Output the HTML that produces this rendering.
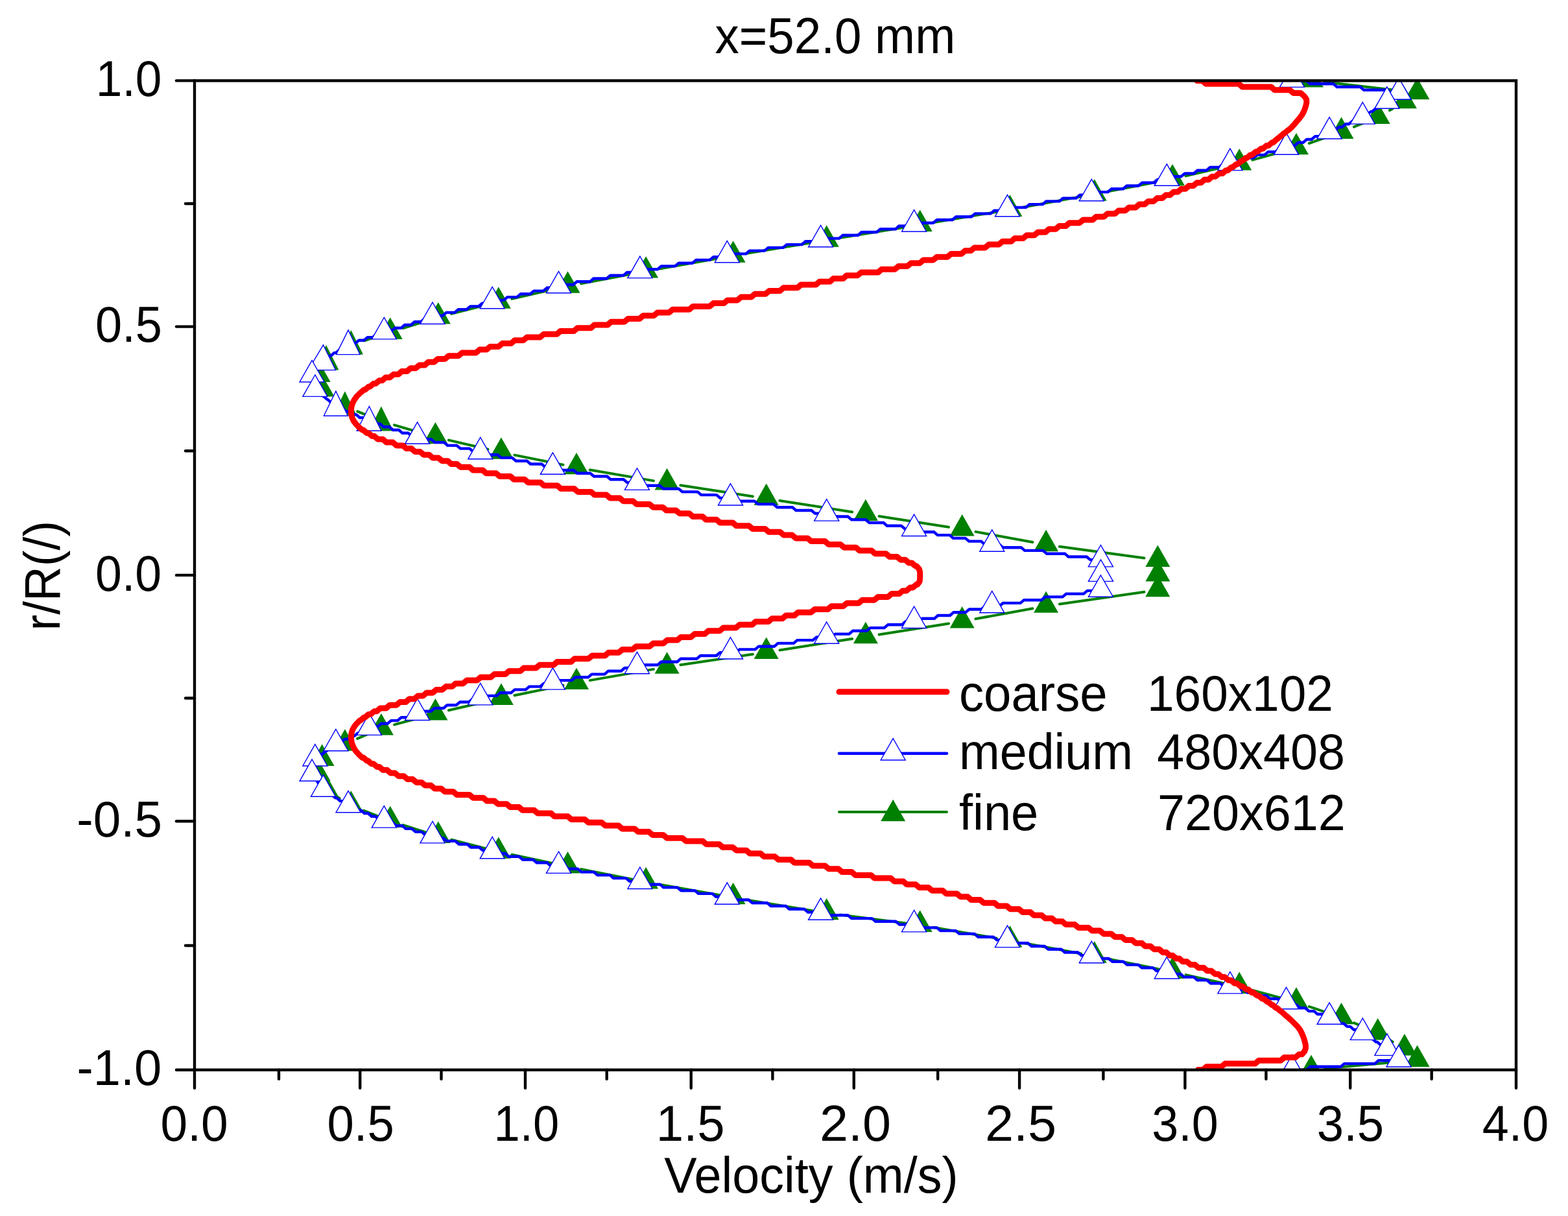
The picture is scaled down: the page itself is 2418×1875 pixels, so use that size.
<!DOCTYPE html>
<html><head><meta charset="utf-8"><title>x=52.0 mm velocity profile</title>
<style>html,body{margin:0;padding:0;background:#fff;}svg{display:block;}text{font-family:'Liberation Sans', Arial, sans-serif;fill:#000;}</style></head><body>
<svg width="2418" height="1875" viewBox="0 0 2418 1875">
<rect x="0" y="0" width="2418" height="1875" fill="#fff"/>
<defs><clipPath id="pc"><rect x="300" y="124.4" width="2038" height="1525.3"/></clipPath></defs>
<g clip-path="url(#pc)">
<path d="M2042.9 126.4L2164.6 140.5M2147.7 167.4L2142.9 170.2M2105.3 188.6L2087.9 195.7M2048.7 210.5L2018.8 221M1978.8 233.5L1931.4 246.6M1890.7 256.9L1828.5 271.2M1787.4 279.9L1708.4 295.3M1667.1 303.1L1578.1 319.5M1536.7 326.8L1439.4 343.1M1398 350L1295.4 366.9M1254 373.8L1151.3 390.8M1109.9 398L1016.8 414.5M975.5 422.2L896.1 437.3M855 445.9L789.3 460.7M748.5 470.5L696.1 483.9M655.8 495.4L621.7 506.2M581.7 518.9L561.3 525.5M523.3 542.7L521 544.1M551.3 634.3L568.5 641.4M608.1 655.4L651.2 668M691.9 678.6L752.4 692.7M793.5 701.6L868.4 716.7M909.7 724.5L1007.9 741.4M1049.4 748.2L1160.9 765.4M1202.4 771.9L1314.2 789.4M1355.6 796L1463 812.8M1504.4 819.9L1592.4 836M1633.9 842.7L1764.5 860.6M1764.5 912.8L1633.9 931.4M1592.4 938.2L1504.4 954.3M1463 961.4L1355.6 978.5M1314.1 985L1202.5 1002.4M1160.9 1008.7L1049.4 1025.2M1007.9 1031.9L909.7 1049.1M868.4 1056.9L793.5 1072.3M752.4 1081.3L691.9 1095.3M651.1 1105.7L608.2 1117.4M568.6 1131.4L551.2 1138.9M520.7 1229.1L523.6 1231M560.9 1249.9L582.1 1258.1M621.7 1272.1L655.8 1283.1M696.1 1294.7L748.5 1308.2M789.3 1317.8L855 1331.6M896.1 1340.1L975.5 1356M1016.8 1363.8L1109.9 1380.2M1151.3 1387.4L1254 1404.4M1295.5 1410.6L1397.9 1423.8M1439.4 1430L1536.7 1446.7M1578.1 1454L1667.1 1470.5M1708.4 1478.5L1787.4 1494.4M1828.5 1503.1L1890.7 1517M1931.5 1527L1978.7 1539.8M2018.9 1552.1L2048.6 1562.1M2087.8 1577.2L2105.4 1584.7M2142.8 1603.6L2147.8 1606.4M2164.6 1636.5L2042.9 1647.6" fill="none" stroke="#008000" stroke-width="4" stroke-linecap="round"/>
<g fill="#008000">
<polygon points="2022,101 2003,134.4 2041,134.4"/>
<polygon points="2185.5,119.9 2166.5,153.3 2204.5,153.3"/>
<polygon points="2165.9,133.9 2146.9,167.3 2184.9,167.3"/>
<polygon points="2124.7,157.7 2105.7,191.1 2143.7,191.1"/>
<polygon points="2068.5,180.6 2049.5,214 2087.5,214"/>
<polygon points="1999,204.9 1980,238.3 2018,238.3"/>
<polygon points="1911.2,229.2 1892.2,262.6 1930.2,262.6"/>
<polygon points="1808,252.9 1789,286.3 1827,286.3"/>
<polygon points="1687.8,276.3 1668.8,309.7 1706.8,309.7"/>
<polygon points="1557.4,300.3 1538.4,333.7 1576.4,333.7"/>
<polygon points="1418.7,323.6 1399.7,357 1437.7,357"/>
<polygon points="1274.7,347.3 1255.7,380.7 1293.7,380.7"/>
<polygon points="1130.6,371.3 1111.6,404.7 1149.6,404.7"/>
<polygon points="996.1,395.2 977.1,428.6 1015.1,428.6"/>
<polygon points="875.5,418.3 856.5,451.7 894.5,451.7"/>
<polygon points="768.8,442.3 749.8,475.7 787.8,475.7"/>
<polygon points="675.8,466.1 656.8,499.5 694.8,499.5"/>
<polygon points="601.7,489.5 582.7,522.9 620.7,522.9"/>
<polygon points="541.3,508.9 522.6,546.6 560,546.6"/>
<polygon points="503,531.9 484,570.4 522.5,570.4"/>
<polygon points="490.7,555.6 471.7,589 509.7,589"/>
<polygon points="496.6,578 477.6,611.4 515.6,611.4"/>
<polygon points="531.9,603.2 513.4,641.2 550.4,641.2"/>
<polygon points="587.9,626.5 569.1,664.5 606.7,664.5"/>
<polygon points="671.4,650.9 652.4,684.3 690.4,684.3"/>
<polygon points="772.9,674.4 753.9,707.8 791.9,707.8"/>
<polygon points="889,697.9 870,731.3 908,731.3"/>
<polygon points="1028.6,722 1009.6,755.4 1047.6,755.4"/>
<polygon points="1181.7,745.6 1162.7,779 1200.7,779"/>
<polygon points="1334.9,769.7 1315.9,803.1 1353.9,803.1"/>
<polygon points="1483.7,793.1 1464.7,826.5 1502.7,826.5"/>
<polygon points="1613.1,816.8 1594.1,850.2 1632.1,850.2"/>
<polygon points="1785.3,840.5 1766.3,873.9 1804.3,873.9"/>
<polygon points="1785.4,863 1766.4,896.4 1804.4,896.4"/>
<polygon points="1785.3,886.8 1766.3,920.2 1804.3,920.2"/>
<polygon points="1613.1,911.4 1594.1,944.8 1632.1,944.8"/>
<polygon points="1483.7,935.1 1464.7,968.5 1502.7,968.5"/>
<polygon points="1334.9,958.8 1315.9,992.2 1353.9,992.2"/>
<polygon points="1181.7,982.6 1162.7,1016 1200.7,1016"/>
<polygon points="1028.6,1005.3 1009.6,1038.7 1047.6,1038.7"/>
<polygon points="889,1029.7 870,1063.1 908,1063.1"/>
<polygon points="772.9,1053.5 753.9,1086.9 791.9,1086.9"/>
<polygon points="671.4,1077.1 652.4,1110.5 690.4,1110.5"/>
<polygon points="587.9,1100 568.9,1133.4 606.9,1133.4"/>
<polygon points="531.9,1124.3 512.9,1157.7 550.9,1157.7"/>
<polygon points="496.6,1147.6 477.6,1181 515.6,1181"/>
<polygon points="490.7,1170.9 471.7,1204.3 509.7,1204.3"/>
<polygon points="503,1194.8 484,1228.2 522,1228.2"/>
<polygon points="541.3,1219.3 522.3,1252.7 560.3,1252.7"/>
<polygon points="601.7,1242.7 582.7,1276.1 620.7,1276.1"/>
<polygon points="675.8,1266.5 656.8,1299.9 694.8,1299.9"/>
<polygon points="768.8,1290.4 749.8,1323.8 787.8,1323.8"/>
<polygon points="875.5,1313 856.5,1346.4 894.5,1346.4"/>
<polygon points="996.1,1337.1 977.1,1370.5 1015.1,1370.5"/>
<polygon points="1130.6,1360.9 1111.6,1394.3 1149.6,1394.3"/>
<polygon points="1274.7,1384.9 1255.7,1418.3 1293.7,1418.3"/>
<polygon points="1418.7,1403.5 1399.7,1436.9 1437.7,1436.9"/>
<polygon points="1557.4,1427.2 1538.4,1460.6 1576.4,1460.6"/>
<polygon points="1687.8,1451.3 1668.8,1484.7 1706.8,1484.7"/>
<polygon points="1808,1475.6 1789,1509 1827,1509"/>
<polygon points="1911.2,1498.5 1892.2,1531.9 1930.2,1531.9"/>
<polygon points="1999,1522.3 1980,1555.7 2018,1555.7"/>
<polygon points="2068.5,1545.9 2049.5,1579.3 2087.5,1579.3"/>
<polygon points="2124.7,1570 2105.7,1603.4 2143.7,1603.4"/>
<polygon points="2165.9,1594 2146.9,1627.4 2184.9,1627.4"/>
<polygon points="2185.5,1611.6 2166.5,1645 2204.5,1645"/>
<polygon points="2022,1626.5 2003,1659.9 2041,1659.9"/>
</g>
<polyline points="1992.5,124.5 2014.8,124.5 2020.3,129.3 2056.2,129.3 2061.7,134 2097.7,134 2103.2,138.8 2139.2,138.8 2144.7,143.6 2150.3,143.6 2150.3,148.3 2149.7,148.3 2144.2,153.1 2143.5,153.1 2138,157.9 2136.4,157.9 2130.9,162.6 2128.9,162.6 2123.4,167.4 2121.3,167.4 2115.8,172.1 2113.8,172.1 2108.3,176.9 2106.3,176.9 2100.8,181.7 2096.5,181.7 2091,186.4 2085.9,186.4 2080.4,191.2 2075.2,191.2 2069.7,196 2064.6,196 2059.1,200.7 2053.9,200.7 2048.4,205.5 2041.1,205.5 2035.6,210.3 2028,210.3 2022.5,215 2015,215 2009.5,219.8 2001.9,219.8 1996.4,224.6 1988.8,224.6 1983.3,229.3 1972.6,229.3 1967.1,234.1 1955.6,234.1 1950.1,238.9 1938.6,238.9 1933.1,243.6 1921.7,243.6 1916.2,248.4 1904.7,248.4 1899.2,253.2 1885.8,253.2 1880.3,257.9 1866.2,257.9 1860.7,262.7 1846.6,262.7 1841.1,267.5 1827,267.5 1821.5,272.2 1807.3,272.2 1801.8,277 1784.8,277 1779.3,281.8 1761.1,281.8 1755.6,286.5 1737.5,286.5 1732,291.3 1713.9,291.3 1708.4,296.1 1690.3,296.1 1684.8,300.8 1664.9,300.8 1659.4,305.6 1639.1,305.6 1633.6,310.4 1613.3,310.4 1607.8,315.1 1587.5,315.1 1582,319.9 1561.8,319.9 1556.3,324.7 1533.1,324.7 1527.6,329.4 1503.7,329.4 1498.2,334.2 1474.3,334.2 1468.8,339 1444.8,339 1439.3,343.7 1415.4,343.7 1409.9,348.5 1386.4,348.5 1380.9,353.3 1357.4,353.3 1351.9,358 1328.5,358 1323,362.8 1299.5,362.8 1294,367.6 1270.5,367.6 1265,372.3 1241.9,372.3 1236.4,377.1 1213.2,377.1 1207.7,381.9 1184.6,381.9 1179.1,386.6 1155.9,386.6 1150.4,391.4 1127.2,391.4 1121.7,396.2 1100.2,396.2 1094.7,400.9 1073.4,400.9 1067.9,405.7 1046.6,405.7 1041.1,410.4 1019.8,410.4 1014.3,415.2 993,415.2 987.5,420 967,420 961.5,424.7 941.2,424.7 935.7,429.5 915.3,429.5 909.8,434.3 889.4,434.3 883.9,439 863.7,439 858.2,443.8 843.4,443.8 837.9,448.6 823.1,448.6 817.6,453.3 802.8,453.3 797.3,458.1 782.4,458.1 776.9,462.9 762.1,462.9 756.6,467.6 743.6,467.6 738.1,472.4 725.2,472.4 719.7,477.2 706.7,477.2 701.2,481.9 688.3,481.9 682.8,486.7 669.8,486.7 664.3,491.5 654.6,491.5 649.1,496.2 639.4,496.2 633.9,501 624.1,501 618.6,505.8 608.9,505.8 603.4,510.5 593.9,510.5 588.4,515.3 580.3,515.3 574.8,520.1 566.7,520.1 561.2,524.8 553.2,524.8 547.7,529.6 539.7,529.6 534.2,534.4 531.7,534.4 526.2,539.1 523.7,539.1 518.2,543.9 515.7,543.9 510.2,548.7 507.7,548.7 502.2,553.4 500.6,553.4 496.1,558.2 496.1,558.2 492.6,563 492.6,563 489.1,567.7 489.1,567.7 485.6,572.5 485.6,572.5 482.6,577.3 482.6,577.3 481.8,582 481.8,582 482.9,586.8 482.9,586.8 483.9,591.6 483.9,591.6 484.9,596.3 484.9,596.3 487.2,601.1 487.2,601.1 491.8,605.9 492.3,605.9 497.8,610.6 498.4,610.6 503.9,615.4 504.4,615.4 509.9,620.2 510.5,620.2 516,624.9 517.6,624.9 523.1,629.7 528.1,629.7 533.6,634.5 538.7,634.5 544.2,639.2 549.2,639.2 554.7,644 559.7,644 565.2,648.8 571.6,648.8 577.1,653.5 586.1,653.5 591.6,658.3 600.6,658.3 606.1,663 615.1,663 620.6,667.8 629.6,667.8 635.1,672.6 645.2,672.6 650.7,677.3 665,677.3 670.5,682.1 684.7,682.1 690.2,686.9 704.4,686.9 709.9,691.6 724.1,691.6 729.6,696.4 744.7,696.4 750.2,701.2 767.3,701.2 772.8,705.9 789.9,705.9 795.4,710.7 812.6,710.7 818.1,715.5 835.2,715.5 840.7,720.2 858.9,720.2 864.4,725 884.7,725 890.2,729.8 910.4,729.8 915.9,734.5 936.1,734.5 941.6,739.3 961.8,739.3 967.3,744.1 988.5,744.1 994,748.8 1017.6,748.8 1023.1,753.6 1046.7,753.6 1052.2,758.4 1075.8,758.4 1081.3,763.1 1104.9,763.1 1110.4,767.9 1134.1,767.9 1139.6,772.7 1163.4,772.7 1168.9,777.4 1192.7,777.4 1198.2,782.2 1222,782.2 1227.5,787 1251.3,787 1256.8,791.7 1280.1,791.7 1285.6,796.5 1307.6,796.5 1313.1,801.3 1335,801.3 1340.5,806 1362.5,806 1368,810.8 1390,810.8 1395.5,815.6 1416.2,815.6 1421.7,820.3 1440.4,820.3 1445.9,825.1 1464.5,825.1 1470,829.9 1488.7,829.9 1494.2,834.6 1512.9,834.6 1518.4,839.4 1541,839.4 1546.5,844.2 1574.7,844.2 1580.2,848.9 1608.4,848.9 1613.9,853.7 1642.1,853.7 1647.6,858.5 1675.8,858.5 1681.3,863.2 1694.7,863.2 1697.4,868 1697.4,868 1697.4,872.8 1697.4,872.8 1697.5,877.5 1697.5,877.5 1697.5,882.3 1697.5,882.3 1697.5,887 1697.5,887 1697.5,891.8 1697.5,891.8 1697.5,896.6 1697.5,896.6 1697.4,901.3 1697.4,901.3 1697.4,906.1 1697.4,906.1 1694.7,910.9 1676.6,910.9 1671.1,915.6 1644.1,915.6 1638.6,920.4 1611.6,920.4 1606.1,925.2 1579.1,925.2 1573.6,929.9 1546.7,929.9 1541.2,934.7 1518.9,934.7 1513.4,939.5 1494.7,939.5 1489.2,944.2 1470.5,944.2 1465,949 1446.4,949 1440.9,953.8 1422.2,953.8 1416.7,958.5 1396.3,958.5 1390.8,963.3 1369.2,963.3 1363.7,968.1 1342,968.1 1336.5,972.8 1314.9,972.8 1309.4,977.6 1287.8,977.6 1282.3,982.4 1259.1,982.4 1253.6,987.1 1229.4,987.1 1223.9,991.9 1199.7,991.9 1194.2,996.7 1170,996.7 1164.5,1001.4 1140.4,1001.4 1134.9,1006.2 1110.3,1006.2 1104.8,1011 1080.1,1011 1074.6,1015.7 1049.8,1015.7 1044.3,1020.5 1019.5,1020.5 1014,1025.3 989.3,1025.3 983.8,1030 963.2,1030 957.7,1034.8 937.8,1034.8 932.3,1039.6 912.5,1039.6 907,1044.3 887.1,1044.3 881.6,1049.1 861.7,1049.1 856.2,1053.9 838.5,1053.9 833,1058.6 816.2,1058.6 810.7,1063.4 793.8,1063.4 788.3,1068.2 771.5,1068.2 766,1072.9 749.1,1072.9 743.6,1077.7 728.8,1077.7 723.3,1082.5 709.2,1082.5 703.7,1087.2 689.6,1087.2 684.1,1092 669.9,1092 664.4,1096.8 650.3,1096.8 644.8,1101.5 634,1101.5 628.5,1106.3 618.6,1106.3 613.1,1111.1 603.1,1111.1 597.6,1115.8 587.7,1115.8 582.2,1120.6 572.3,1120.6 566.8,1125.3 562.1,1125.3 556.6,1130.1 552,1130.1 546.5,1134.9 541.9,1134.9 536.4,1139.6 531.8,1139.6 526.3,1144.4 521.7,1144.4 516.2,1149.2 514.8,1149.2 509.3,1153.9 508.2,1153.9 502.7,1158.7 501.7,1158.7 496.2,1163.5 495.2,1163.5 489.7,1168.2 488.6,1168.2 485.4,1173 485.4,1173 484.4,1177.8 484.4,1177.8 483.4,1182.5 483.4,1182.5 482.5,1187.3 482.5,1187.3 481.7,1192.1 481.7,1192.1 483.2,1196.8 483.2,1196.8 486.7,1201.6 486.7,1201.6 490.2,1206.4 490.2,1206.4 493.6,1211.1 493.6,1211.1 497.3,1215.9 497.3,1215.9 502,1220.7 504,1220.7 509.5,1225.4 511.5,1225.4 517,1230.2 519,1230.2 524.5,1235 526.6,1235 532.1,1239.7 534.1,1239.7 539.6,1244.5 545.2,1244.5 550.7,1249.3 556.4,1249.3 561.9,1254 567.6,1254 573.1,1258.8 578.9,1258.8 584.4,1263.6 590.3,1263.6 595.8,1268.3 605.3,1268.3 610.8,1273.1 620.2,1273.1 625.7,1277.9 635.2,1277.9 640.7,1282.6 650.2,1282.6 655.7,1287.4 665.3,1287.4 670.8,1292.2 683.7,1292.2 689.2,1296.9 702.1,1296.9 707.6,1301.7 720.5,1301.7 726,1306.5 738.9,1306.5 744.4,1311.2 757.4,1311.2 762.9,1316 779,1316 784.5,1320.8 800.5,1320.8 806,1325.5 822.1,1325.5 827.6,1330.3 843.7,1330.3 849.2,1335.1 866.2,1335.1 871.7,1339.8 891,1339.8 896.5,1344.6 915.8,1344.6 921.3,1349.4 940.6,1349.4 946.1,1354.1 965.4,1354.1 970.9,1358.9 990.7,1358.9 996.2,1363.7 1017.7,1363.7 1023.2,1368.4 1044.6,1368.4 1050.1,1373.2 1071.5,1373.2 1077,1377.9 1098.4,1377.9 1103.9,1382.7 1125.7,1382.7 1131.2,1387.5 1154.4,1387.5 1159.9,1392.2 1183.1,1392.2 1188.6,1397 1211.7,1397 1217.2,1401.8 1240.4,1401.8 1245.9,1406.5 1270.8,1406.5 1276.3,1411.3 1307.7,1411.3 1313.2,1416.1 1344.6,1416.1 1350.1,1420.8 1381.5,1420.8 1387,1425.6 1415.9,1425.6 1421.4,1430.4 1444.8,1430.4 1450.3,1435.1 1473.8,1435.1 1479.3,1439.9 1502.7,1439.9 1508.2,1444.7 1531.7,1444.7 1537.2,1449.4 1559.5,1449.4 1565,1454.2 1585.1,1454.2 1590.6,1459 1610.8,1459 1616.3,1463.7 1636.5,1463.7 1642,1468.5 1662.2,1468.5 1667.7,1473.3 1687,1473.3 1692.5,1478 1709.8,1478 1715.3,1482.8 1732.5,1482.8 1738,1487.6 1755.3,1487.6 1760.8,1492.3 1778,1492.3 1783.5,1497.1 1800.3,1497.1 1805.8,1501.9 1820.6,1501.9 1826.1,1506.6 1840.9,1506.6 1846.4,1511.4 1861.2,1511.4 1866.7,1516.2 1881.6,1516.2 1887.1,1520.9 1900.7,1520.9 1906.2,1525.7 1918.1,1525.7 1923.6,1530.5 1935.4,1530.5 1940.9,1535.2 1952.8,1535.2 1958.3,1540 1970.1,1540 1975.6,1544.8 1985.9,1544.8 1991.4,1549.5 1999.4,1549.5 2004.9,1554.3 2012.8,1554.3 2018.3,1559.1 2026.3,1559.1 2031.8,1563.8 2039.7,1563.8 2045.2,1568.6 2051.7,1568.6 2057.2,1573.4 2061.9,1573.4 2067.4,1578.1 2072,1578.1 2077.5,1582.9 2082.1,1582.9 2087.6,1587.7 2092.3,1587.7 2097.8,1592.4 2101.4,1592.4 2106.9,1597.2 2108.8,1597.2 2114.3,1601.9 2116.3,1601.9 2121.8,1606.7 2123.8,1606.7 2129.3,1611.5 2131.2,1611.5 2136.7,1616.2 2137.8,1616.2 2143,1621 2143,1621 2147.9,1625.8 2147.9,1625.8 2152.8,1630.5 2152.8,1630.5 2152.5,1635.3 2125.6,1635.3 2120.1,1640.1 2073,1640.1 2067.5,1644.8 2020.3,1644.8 2014.8,1649.6 1992.5,1649.6" fill="none" stroke="#0000ff" stroke-width="4.4" stroke-linejoin="round" stroke-linecap="round"/>
<g fill="#fff" stroke="#0000ff" stroke-width="1.4">
<polygon points="1992.5,101 1973.5,134.4 2011.5,134.4"/>
<polygon points="2157,119.9 2138,153.3 2176,153.3"/>
<polygon points="2138.9,133.9 2119.9,167.3 2157.9,167.3"/>
<polygon points="2101.3,157.7 2082.3,191.1 2120.3,191.1"/>
<polygon points="2050.1,180.6 2031.1,214 2069.1,214"/>
<polygon points="1983.5,204.9 1964.5,238.3 2002.5,238.3"/>
<polygon points="1896.9,229.2 1877.9,262.6 1915.9,262.6"/>
<polygon points="1799.3,252.9 1780.3,286.3 1818.3,286.3"/>
<polygon points="1683.3,276.3 1664.3,309.7 1702.3,309.7"/>
<polygon points="1553.5,300.3 1534.5,333.7 1572.5,333.7"/>
<polygon points="1409.6,323.6 1390.6,357 1428.6,357"/>
<polygon points="1265.6,347.3 1246.6,380.7 1284.6,380.7"/>
<polygon points="1121.3,371.3 1102.3,404.7 1140.3,404.7"/>
<polygon points="986.9,395.2 967.9,428.6 1005.9,428.6"/>
<polygon points="861.5,418.3 842.5,451.7 880.5,451.7"/>
<polygon points="759.2,442.3 740.2,475.7 778.2,475.7"/>
<polygon points="667,466.1 648,499.5 686,499.5"/>
<polygon points="592.3,489.5 573.3,522.9 611.3,522.9"/>
<polygon points="537.1,508.9 518.4,546.6 555.2,546.6"/>
<polygon points="498.5,531.9 475.3,570.6 517.6,570.6"/>
<polygon points="481.1,555.6 462.1,589 500.1,589"/>
<polygon points="485.9,578 466.9,611.4 504.9,611.4"/>
<polygon points="517.9,603.2 499.4,641.2 536.4,641.2"/>
<polygon points="569.4,626.5 550.3,664.3 587.9,664.3"/>
<polygon points="643.6,650.9 624.6,684.3 662.6,684.3"/>
<polygon points="740.8,674.4 721.8,707.8 759.8,707.8"/>
<polygon points="852.4,697.9 833.4,731.3 871.4,731.3"/>
<polygon points="982.4,722 963.4,755.4 1001.4,755.4"/>
<polygon points="1126.5,745.6 1107.5,779 1145.5,779"/>
<polygon points="1274.7,769.7 1255.7,803.1 1293.7,803.1"/>
<polygon points="1409.6,793.1 1390.6,826.5 1428.6,826.5"/>
<polygon points="1529.8,816.8 1510.8,850.2 1548.8,850.2"/>
<polygon points="1697.4,840.5 1678.4,873.9 1716.4,873.9"/>
<polygon points="1697.5,863 1678.5,896.4 1716.5,896.4"/>
<polygon points="1697.4,886.8 1678.4,920.2 1716.4,920.2"/>
<polygon points="1529.8,911.4 1510.8,944.8 1548.8,944.8"/>
<polygon points="1409.6,935.1 1390.6,968.5 1428.6,968.5"/>
<polygon points="1274.7,958.8 1255.7,992.2 1293.7,992.2"/>
<polygon points="1126.5,982.6 1107.5,1016 1145.5,1016"/>
<polygon points="982.4,1005.3 963.4,1038.7 1001.4,1038.7"/>
<polygon points="852.4,1029.7 833.4,1063.1 871.4,1063.1"/>
<polygon points="740.8,1053.5 721.8,1086.9 759.8,1086.9"/>
<polygon points="643.6,1077.1 624.6,1110.5 662.6,1110.5"/>
<polygon points="569.4,1100 550.4,1133.4 588.4,1133.4"/>
<polygon points="517.9,1124.3 498.9,1157.7 536.9,1157.7"/>
<polygon points="485.9,1147.6 466.9,1181 504.9,1181"/>
<polygon points="481.1,1170.9 462.1,1204.3 500.1,1204.3"/>
<polygon points="498.5,1194.8 479.5,1228.2 517.5,1228.2"/>
<polygon points="537.1,1219.3 518.1,1252.7 556.1,1252.7"/>
<polygon points="592.3,1242.7 573.3,1276.1 611.3,1276.1"/>
<polygon points="667,1266.5 648,1299.9 686,1299.9"/>
<polygon points="759.2,1290.4 740.2,1323.8 778.2,1323.8"/>
<polygon points="861.5,1313 842.5,1346.4 880.5,1346.4"/>
<polygon points="986.9,1337.1 967.9,1370.5 1005.9,1370.5"/>
<polygon points="1121.3,1360.9 1102.3,1394.3 1140.3,1394.3"/>
<polygon points="1265.6,1384.9 1246.6,1418.3 1284.6,1418.3"/>
<polygon points="1409.6,1403.5 1390.6,1436.9 1428.6,1436.9"/>
<polygon points="1553.5,1427.2 1534.5,1460.6 1572.5,1460.6"/>
<polygon points="1683.3,1451.3 1664.3,1484.7 1702.3,1484.7"/>
<polygon points="1799.3,1475.6 1780.3,1509 1818.3,1509"/>
<polygon points="1896.9,1498.5 1877.9,1531.9 1915.9,1531.9"/>
<polygon points="1983.5,1522.3 1964.5,1555.7 2002.5,1555.7"/>
<polygon points="2050.1,1545.9 2031.1,1579.3 2069.1,1579.3"/>
<polygon points="2101.3,1570 2082.3,1603.4 2120.3,1603.4"/>
<polygon points="2138.9,1594 2119.9,1627.4 2157.9,1627.4"/>
<polygon points="2157,1611.6 2138,1645 2176,1645"/>
<polygon points="1992.5,1626.5 1973.5,1659.9 2011.5,1659.9"/>
</g>
<polyline points="1846,124.5 1854.2,124.5 1859.7,129.3 1910.3,129.3 1915.8,134 1960.2,134 1965.7,138.8 1989.2,138.8 1994.7,143.6 2006,143.6 2011.3,148.3 2011.3,148.3 2014.6,153.1 2014.6,153.1 2014.9,157.9 2014.9,157.9 2013.9,162.6 2013.9,162.6 2012.4,167.4 2012.4,167.4 2010.5,172.1 2010.5,172.1 2008,176.9 2008,176.9 2004.5,181.7 2004.5,181.7 2000.5,186.4 2000.5,186.4 1996.4,191.2 1996.4,191.2 1992,196 1992,196 1986.9,200.7 1986.3,200.7 1980.8,205.5 1980.1,205.5 1974.6,210.3 1974.3,210.3 1968.8,215 1968.6,215 1963.1,219.8 1961.5,219.8 1956,224.6 1952.9,224.6 1947.4,229.3 1944.4,229.3 1938.9,234.1 1936.3,234.1 1930.8,238.9 1928.2,238.9 1922.7,243.6 1921,243.6 1915.5,248.4 1913.8,248.4 1908.3,253.2 1906.5,253.2 1901,257.9 1899,257.9 1893.5,262.7 1890.6,262.7 1885.1,267.5 1879.9,267.5 1874.4,272.2 1869.2,272.2 1863.7,277 1857.4,277 1851.9,281.8 1845.6,281.8 1840.1,286.5 1833.4,286.5 1827.9,291.3 1821.5,291.3 1816,296.1 1809.6,296.1 1804.1,300.8 1797.7,300.8 1792.2,305.6 1784.4,305.6 1778.9,310.4 1770.7,310.4 1765.2,315.1 1756.8,315.1 1751.3,319.9 1740.9,319.9 1735.4,324.7 1725.1,324.7 1719.6,329.4 1707.9,329.4 1702.4,334.2 1690.4,334.2 1684.9,339 1670.3,339 1664.8,343.7 1649.2,343.7 1643.7,348.5 1633.4,348.5 1627.9,353.3 1617.5,353.3 1612,358 1600.5,358 1595,362.8 1583.1,362.8 1577.6,367.6 1564.7,367.6 1559.2,372.3 1545.7,372.3 1540.2,377.1 1524.7,377.1 1519.2,381.9 1502.6,381.9 1497.1,386.6 1488.2,386.6 1482.7,391.4 1466.7,391.4 1461.2,396.2 1444.7,396.2 1439.2,400.9 1424,400.9 1418.5,405.7 1404.9,405.7 1399.4,410.4 1385.7,410.4 1380.2,415.2 1359.6,415.2 1354.1,420 1328.1,420 1322.6,424.7 1305.7,424.7 1300.2,429.5 1285.2,429.5 1279.7,434.3 1263.6,434.3 1258.1,439 1235.2,439 1229.7,443.8 1208.1,443.8 1202.6,448.6 1186,448.6 1180.5,453.3 1164,453.3 1158.5,458.1 1142.7,458.1 1137.2,462.9 1121.8,462.9 1116.3,467.6 1100,467.6 1094.5,472.4 1068.6,472.4 1063.1,477.2 1037.3,477.2 1031.8,481.9 1013.9,481.9 1008.4,486.7 991.8,486.7 986.3,491.5 968.5,491.5 963,496.2 942.5,496.2 937,501 916.6,501 911.1,505.8 890.4,505.8 884.9,510.5 864.2,510.5 858.7,515.3 838.3,515.3 832.8,520.1 812.4,520.1 806.9,524.8 793.5,524.8 788,529.6 774.5,529.6 769,534.4 755.9,534.4 750.4,539.1 739.6,539.1 734.1,543.9 712.6,543.9 707.1,548.7 691.9,548.7 686.4,553.4 675.1,553.4 669.6,558.2 660.6,558.2 655.1,563 646.8,563 641.3,567.7 633.2,567.7 627.7,572.5 619.6,572.5 614.1,577.3 606.7,577.3 601.2,582 594.7,582 589.2,586.8 584.7,586.8 579.2,591.6 575.8,591.6 570.3,596.3 568.3,596.3 562.8,601.1 561.1,601.1 555.6,605.9 555.5,605.9 550.7,610.6 550.7,610.6 547,615.4 547,615.4 544.4,620.2 544.4,620.2 542.6,624.9 542.6,624.9 541.6,629.7 541.6,629.7 541.4,634.5 541.4,634.5 541.8,639.2 541.8,639.2 543,644 543,644 545.2,648.8 545.2,648.8 548.7,653.5 548.7,653.5 553.2,658.3 553.2,658.3 558.5,663 560.2,663 565.7,667.8 568.4,667.8 573.9,672.6 577.3,672.6 582.8,677.3 590.4,677.3 595.9,682.1 605.8,682.1 611.3,686.9 621.1,686.9 626.6,691.6 634.4,691.6 639.9,696.4 647.7,696.4 653.2,701.2 661.6,701.2 667.1,705.9 676,705.9 681.5,710.7 690.3,710.7 695.8,715.5 704.6,715.5 710.1,720.2 724,720.2 729.5,725 744.4,725 749.9,729.8 765.1,729.8 770.6,734.5 787.1,734.5 792.6,739.3 809.1,739.3 814.6,744.1 833.6,744.1 839.1,748.8 859.6,748.8 865.1,753.6 885.5,753.6 891,758.4 911.4,758.4 916.9,763.1 935.2,763.1 940.7,767.9 955.6,767.9 961.1,772.7 976.1,772.7 981.6,777.4 1001.6,777.4 1007.1,782.2 1022,782.2 1027.5,787 1042.4,787 1047.9,791.7 1062.9,791.7 1068.4,796.5 1083.3,796.5 1088.8,801.3 1105,801.3 1110.5,806 1130.1,806 1135.6,810.8 1155.1,810.8 1160.6,815.6 1180.1,815.6 1185.6,820.3 1203.1,820.3 1208.6,825.1 1221.6,825.1 1227.1,829.9 1245.4,829.9 1250.9,834.6 1272.2,834.6 1277.7,839.4 1296,839.4 1301.5,844.2 1319.8,844.2 1325.3,848.9 1343.9,848.9 1349.4,853.7 1366.2,853.7 1371.7,858.5 1383.3,858.5 1388.8,863.2 1396,863.2 1401.5,868 1406.2,868 1411.7,872.8 1413.3,872.8 1417.4,877.5 1417.4,877.5 1418.7,882.3 1418.7,882.3 1418.7,887 1418.7,887 1418.7,891.8 1418.7,891.8 1418.1,896.6 1418.1,896.6 1414.7,901.3 1413,901.3 1407.5,906.1 1403.4,906.1 1397.9,910.9 1392,910.9 1386.5,915.6 1374.9,915.6 1369.4,920.4 1353.9,920.4 1348.4,925.2 1329.8,925.2 1324.3,929.9 1306,929.9 1300.5,934.7 1282.2,934.7 1276.7,939.5 1256.3,939.5 1250.8,944.2 1230.6,944.2 1225.1,949 1212.1,949 1206.6,953.8 1190.4,953.8 1184.9,958.5 1165.3,958.5 1159.8,963.3 1140.3,963.3 1134.8,968.1 1115.2,968.1 1109.7,972.8 1092.2,972.8 1086.7,977.6 1071.1,977.6 1065.6,982.4 1049.9,982.4 1044.4,987.1 1028.7,987.1 1023.2,991.9 1007.5,991.9 1002,996.7 981.1,996.7 975.6,1001.4 959.8,1001.4 954.3,1006.2 938.5,1006.2 933,1011 913.1,1011 907.6,1015.7 886.1,1015.7 880.6,1020.5 859.1,1020.5 853.6,1025.3 832.1,1025.3 826.6,1030 807.7,1030 802.2,1034.8 784.8,1034.8 779.3,1039.6 762.3,1039.6 756.8,1044.3 741,1044.3 735.5,1049.1 719.7,1049.1 714.2,1053.9 702.6,1053.9 697.1,1058.6 687.7,1058.6 682.2,1063.4 672.8,1063.4 667.3,1068.2 657.9,1068.2 652.4,1072.9 644.6,1072.9 639.1,1077.7 631.3,1077.7 625.8,1082.5 616.9,1082.5 611.4,1087.2 601,1087.2 595.5,1092 586.5,1092 581,1096.8 577,1096.8 571.5,1101.5 568.2,1101.5 562.7,1106.3 561,1106.3 555.5,1111.1 554.6,1111.1 550,1115.8 550,1115.8 546.2,1120.6 546.2,1120.6 543.6,1125.3 543.6,1125.3 542.1,1130.1 542.1,1130.1 541.4,1134.9 541.4,1134.9 541.5,1139.6 541.5,1139.6 542.2,1144.4 542.2,1144.4 543.8,1149.2 543.8,1149.2 545.9,1153.9 545.9,1153.9 549.2,1158.7 549.2,1158.7 553.6,1163.5 553.6,1163.5 558.6,1168.2 560.3,1168.2 565.8,1173 567.4,1173 572.9,1177.8 576.1,1177.8 581.6,1182.5 585,1182.5 590.5,1187.3 597,1187.3 602.5,1192.1 609.3,1192.1 614.8,1196.8 622.9,1196.8 628.4,1201.6 636.5,1201.6 642,1206.4 650.1,1206.4 655.6,1211.1 664.6,1211.1 670.1,1215.9 680.3,1215.9 685.8,1220.7 698.8,1220.7 704.3,1225.4 723.9,1225.4 729.4,1230.2 745.3,1230.2 750.8,1235 762.3,1235 767.8,1239.7 781.3,1239.7 786.8,1244.5 800.3,1244.5 805.8,1249.3 823.7,1249.3 829.2,1254 849.6,1254 855.1,1258.8 875.7,1258.8 881.2,1263.6 901.9,1263.6 907.4,1268.3 928,1268.3 933.5,1273.1 953.9,1273.1 959.4,1277.9 978.6,1277.9 984.1,1282.6 1000.7,1282.6 1006.2,1287.4 1022.7,1287.4 1028.2,1292.2 1052.2,1292.2 1057.7,1296.9 1083.5,1296.9 1089,1301.7 1109,1301.7 1114.5,1306.5 1129.9,1306.5 1135.4,1311.2 1150.9,1311.2 1156.4,1316 1172.8,1316 1178.3,1320.8 1194.9,1320.8 1200.4,1325.5 1219.7,1325.5 1225.2,1330.3 1248.2,1330.3 1253.7,1335.1 1272.5,1335.1 1278,1339.8 1293,1339.8 1298.5,1344.6 1313.5,1344.6 1319,1349.4 1343.1,1349.4 1348.6,1354.1 1373.6,1354.1 1379.1,1358.9 1392.7,1358.9 1398.2,1363.7 1411.8,1363.7 1417.3,1368.4 1431.6,1368.4 1437.1,1373.2 1453.5,1373.2 1459,1377.9 1475.5,1377.9 1481,1382.7 1492.1,1382.7 1497.6,1387.5 1511.4,1387.5 1516.9,1392.2 1533.5,1392.2 1539,1397 1552.6,1397 1558.1,1401.8 1571.5,1401.8 1577,1406.5 1588.9,1406.5 1594.4,1411.3 1606.4,1411.3 1611.9,1416.1 1622.3,1416.1 1627.8,1420.8 1638.2,1420.8 1643.7,1425.6 1657.4,1425.6 1662.9,1430.4 1678.5,1430.4 1684,1435.1 1696.3,1435.1 1701.8,1439.9 1713.7,1439.9 1719.2,1444.7 1729.9,1444.7 1735.4,1449.4 1745.7,1449.4 1751.2,1454.2 1760.5,1454.2 1766,1459 1774.1,1459 1779.6,1463.7 1787.7,1463.7 1793.2,1468.5 1798.4,1468.5 1803.9,1473.3 1808.4,1473.3 1813.9,1478 1818.5,1478 1824,1482.8 1830.5,1482.8 1836,1487.6 1842.8,1487.6 1848.3,1492.3 1856.4,1492.3 1861.9,1497.1 1868.1,1497.1 1873.6,1501.9 1878.6,1501.9 1884.1,1506.6 1888.6,1506.6 1894.1,1511.4 1898.1,1511.4 1903.6,1516.2 1907.4,1516.2 1912.9,1520.9 1916.2,1520.9 1921.7,1525.7 1924.9,1525.7 1930.4,1530.5 1933.1,1530.5 1938.6,1535.2 1941,1535.2 1946.5,1540 1948.9,1540 1954.4,1544.8 1955.7,1544.8 1961.2,1549.5 1962.5,1549.5 1968,1554.3 1969.3,1554.3 1974.8,1559.1 1975.1,1559.1 1980.6,1563.8 1980.6,1563.8 1986.1,1568.6 1986.1,1568.6 1991.4,1573.4 1991.4,1573.4 1996.2,1578.1 1996.2,1578.1 2001,1582.9 2001,1582.9 2004.7,1587.7 2004.7,1587.7 2007.1,1592.4 2007.1,1592.4 2009.2,1597.2 2009.2,1597.2 2011,1601.9 2011,1601.9 2012.3,1606.7 2012.3,1606.7 2013.4,1611.5 2013.4,1611.5 2013.5,1616.2 2013.5,1616.2 2011.8,1621 2011.8,1621 2007.7,1625.8 2003.1,1625.8 1997.6,1630.5 1980.4,1630.5 1974.9,1635.3 1941,1635.3 1935.5,1640.1 1889,1640.1 1883.5,1644.8 1860.4,1644.8 1854.9,1649.6 1847.5,1649.6" fill="none" stroke="#ff0000" stroke-width="9" stroke-linejoin="round" stroke-linecap="round"/>
</g>
<g stroke="#000" stroke-width="4.4" stroke-linecap="round" fill="none">
<rect x="300" y="124.4" width="2038" height="1525.3" stroke-linecap="square"/>
<line x1="300" y1="1649.7" x2="300" y2="1677.7"/>
<line x1="555.2" y1="1649.7" x2="555.2" y2="1677.7"/>
<line x1="810" y1="1649.7" x2="810" y2="1677.7"/>
<line x1="1065.7" y1="1649.7" x2="1065.7" y2="1677.7"/>
<line x1="1316.8" y1="1649.7" x2="1316.8" y2="1677.7"/>
<line x1="1572.1" y1="1649.7" x2="1572.1" y2="1677.7"/>
<line x1="1827.4" y1="1649.7" x2="1827.4" y2="1677.7"/>
<line x1="2082.2" y1="1649.7" x2="2082.2" y2="1677.7"/>
<line x1="2338" y1="1649.7" x2="2338" y2="1677.7"/>
<line x1="430" y1="1649.7" x2="430" y2="1663.7"/>
<line x1="680.5" y1="1649.7" x2="680.5" y2="1663.7"/>
<line x1="935.7" y1="1649.7" x2="935.7" y2="1663.7"/>
<line x1="1191.4" y1="1649.7" x2="1191.4" y2="1663.7"/>
<line x1="1446.2" y1="1649.7" x2="1446.2" y2="1663.7"/>
<line x1="1701.4" y1="1649.7" x2="1701.4" y2="1663.7"/>
<line x1="1952.4" y1="1649.7" x2="1952.4" y2="1663.7"/>
<line x1="2207.7" y1="1649.7" x2="2207.7" y2="1663.7"/>
<line x1="300" y1="124.4" x2="272" y2="124.4"/>
<line x1="300" y1="503.6" x2="272" y2="503.6"/>
<line x1="300" y1="886.9" x2="272" y2="886.9"/>
<line x1="300" y1="1266.2" x2="272" y2="1266.2"/>
<line x1="300" y1="1649.7" x2="272" y2="1649.7"/>
<line x1="300" y1="314" x2="286" y2="314"/>
<line x1="300" y1="695.2" x2="286" y2="695.2"/>
<line x1="300" y1="1076.5" x2="286" y2="1076.5"/>
<line x1="300" y1="1458" x2="286" y2="1458"/>
</g>
<text font-size="77" transform="translate(247.6 1759.2) scale(0.9730 1)" x="0" y="0">0.0</text>
<text font-size="77" transform="translate(504.5 1759.2) scale(0.9650 1)" x="0" y="0">0.5</text>
<text font-size="77" transform="translate(761.6 1759.2) scale(0.9398 1)" x="0" y="0">1.0</text>
<text font-size="77" transform="translate(1011.8 1759.2) scale(0.9888 1)" x="0" y="0">1.5</text>
<text font-size="77" transform="translate(1264 1759.2) scale(1.0280 1)" x="0" y="0">2.0</text>
<text font-size="77" transform="translate(1519 1759.2) scale(1.0290 1)" x="0" y="0">2.5</text>
<text font-size="77" transform="translate(1776.3 1759.2) scale(0.9564 1)" x="0" y="0">3.0</text>
<text font-size="77" transform="translate(2030.8 1759.2) scale(0.9660 1)" x="0" y="0">3.5</text>
<text font-size="77" transform="translate(2285.7 1759.2) scale(0.9569 1)" x="0" y="0">4.0</text>
<text font-size="77" transform="translate(147.8 148.1) scale(0.9490 1)" x="0" y="0">1.0</text>
<text font-size="77" transform="translate(147 527.3) scale(0.9614 1)" x="0" y="0">0.5</text>
<text font-size="77" transform="translate(147.1 910.6) scale(0.9535 1)" x="0" y="0">0.0</text>
<text font-size="77" transform="translate(118.2 1289.9) scale(0.9937 1)" x="0" y="0">-0.5</text>
<text font-size="77" transform="translate(118.4 1673.4) scale(0.9865 1)" x="0" y="0">-1.0</text>
<text font-size="77" transform="translate(1102.5 81.8) scale(0.9681 1)" x="0" y="0">x=52.0 mm</text>
<text font-size="77" transform="translate(1024.2 1839) scale(0.9816 1)" x="0" y="0">Velocity (m/s)</text>
<text font-size="77" transform="translate(91.7 887.6) rotate(-90) translate(-84.8 0) scale(0.9661 1)" x="0" y="0">r/R(/)</text>
<text font-size="77" transform="translate(1479 1095.7) scale(0.9898 1)" x="0" y="0">coarse</text>
<text font-size="77" transform="translate(1769 1095.7) scale(0.9712 1)" x="0" y="0">160x102</text>
<text font-size="77" transform="translate(1479.1 1185.9) scale(0.9784 1)" x="0" y="0">medium</text>
<text font-size="77" transform="translate(1784.3 1185.9) scale(0.9810 1)" x="0" y="0">480x408</text>
<text font-size="77" transform="translate(1478.9 1280.2) scale(0.9867 1)" x="0" y="0">fine</text>
<text font-size="77" transform="translate(1785.1 1280.2) scale(0.9805 1)" x="0" y="0">720x612</text>
<line x1="1294" y1="1066.7" x2="1460" y2="1066.7" stroke="#ff0000" stroke-width="9" stroke-linecap="round"/>
<line x1="1294" y1="1161.8" x2="1460" y2="1161.8" stroke="#0000ff" stroke-width="4.6" stroke-linecap="round"/>
<polygon points="1377.2,1138.6 1358.2,1172 1396.2,1172" fill="#fff" stroke="#0000ff" stroke-width="1.4"/>
<line x1="1294" y1="1251.9" x2="1460" y2="1251.9" stroke="#008000" stroke-width="4" stroke-linecap="round"/>
<polygon points="1377.2,1232.8 1358.2,1266.2 1396.2,1266.2" fill="#008000"/>
</svg></body></html>
